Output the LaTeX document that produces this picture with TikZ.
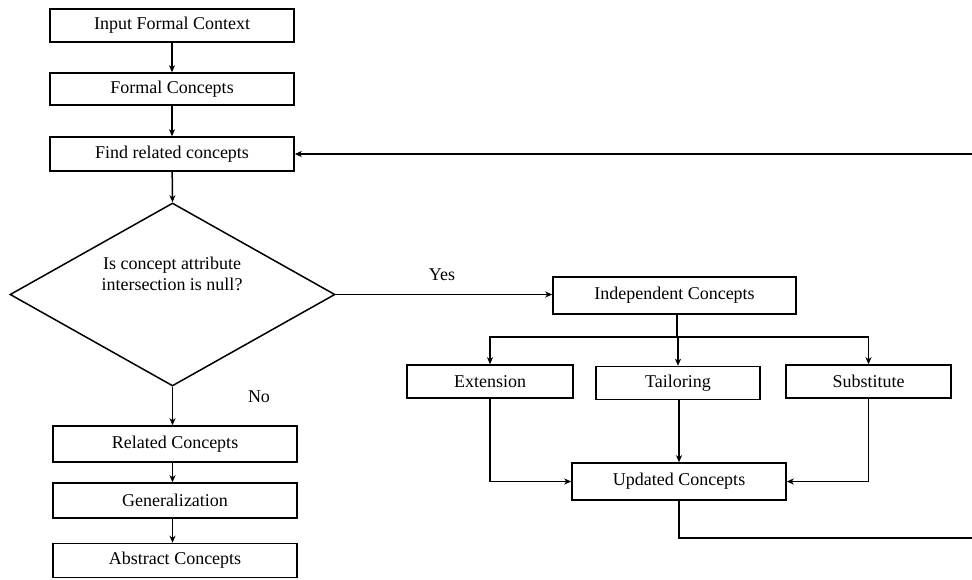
\documentclass[tikz,border=0pt]{standalone}
\usepackage{fontspec}
\setmainfont{Liberation Serif}
\usetikzlibrary{shapes.geometric,arrows.meta}
\begin{document}
\begin{tikzpicture}[x=1pt,y=-1pt,
  every node/.style={font=\fontsize{18}{21}\selectfont},
  box/.style={draw,line width=1.5pt,inner sep=0pt,minimum width=244pt,minimum height=33pt},
  flow/.style={line width=1.5pt,-{Stealth[length=7pt,width=6pt,inset=2pt]}},
  plain/.style={line width=1.5pt}]
\useasboundingbox (0,0) rectangle (972,579);

% main column
\node[box] (inp) at (172,25.5) {Input Formal Context};
\node[box,minimum height=32pt] (fc) at (172,89) {Formal Concepts};
\node[box,minimum height=34pt] (find) at (172,154) {Find related concepts};
\node[draw,shape=diamond,line width=1.5pt,inner sep=0pt,
      minimum width=325pt,minimum height=183pt] (dec) at (172.5,294.5) {};
\node[align=center] (dectext) at (172,273.5) {Is concept attribute\\intersection is null?};
\node[box,minimum height=36pt] (rel) at (175,444) {Related Concepts};
\node[box,minimum height=35pt] (gen) at (175,500.5) {Generalization};
\node[box,minimum height=34pt] (abs) at (175,560.5) {Abstract Concepts};

% right branch
\node[box,minimum width=243pt,minimum height=37pt] (ind) at (674.5,295.5) {Independent Concepts};
\node[box,minimum width=166pt,minimum height=33pt] (ext) at (490,381.5) {Extension};
\node[box,minimum width=164pt,minimum height=33pt] (tai) at (678,383) {Tailoring};
\node[box,minimum width=165pt,minimum height=33pt] (sub) at (868.5,381.5) {Substitute};
\node[box,minimum width=214pt,minimum height=37pt] (upd) at (679,481.5) {Updated Concepts};

% branch labels
\node (yes) at (442,275) {Yes};
\node (no) at (259,397) {No};

% connectors
\draw[flow] (inp) -- (fc);
\draw[flow] (fc) -- (find);
\draw[flow] (find) -- (dec.north);
\draw[flow] (dec.south) -- (dec.south |- rel.north);
\draw[flow] (rel.south -| dec.south) -- (gen.north -| dec.south);
\draw[flow] (gen.south -| dec.south) -- (abs.north -| dec.south);
\draw[flow] (dec.east) -- (dec.east -| ind.west);
\coordinate (split) at (677,337);
\draw[plain] (ind.south -| split) -- (split);
\draw[flow] (split) -- (split -| tai.north) -- (tai.north);
\draw[flow] (split) -- (split -| ext.north) -- (ext.north);
\draw[flow] (split) -- (split -| sub.north) -- (sub.north);
\draw[flow] (tai.south -| upd.north) -- (upd.north);
\draw[flow] (ext.south) |- (upd.west);
\draw[flow] (sub.south) |- (upd.east);
\coordinate (loopfoot) at (990,538);
\coordinate (loophead) at (990,154);
\draw[flow] (upd.south) |- (loopfoot) -- (loophead) -- (find.east);
\end{tikzpicture}
\end{document}
